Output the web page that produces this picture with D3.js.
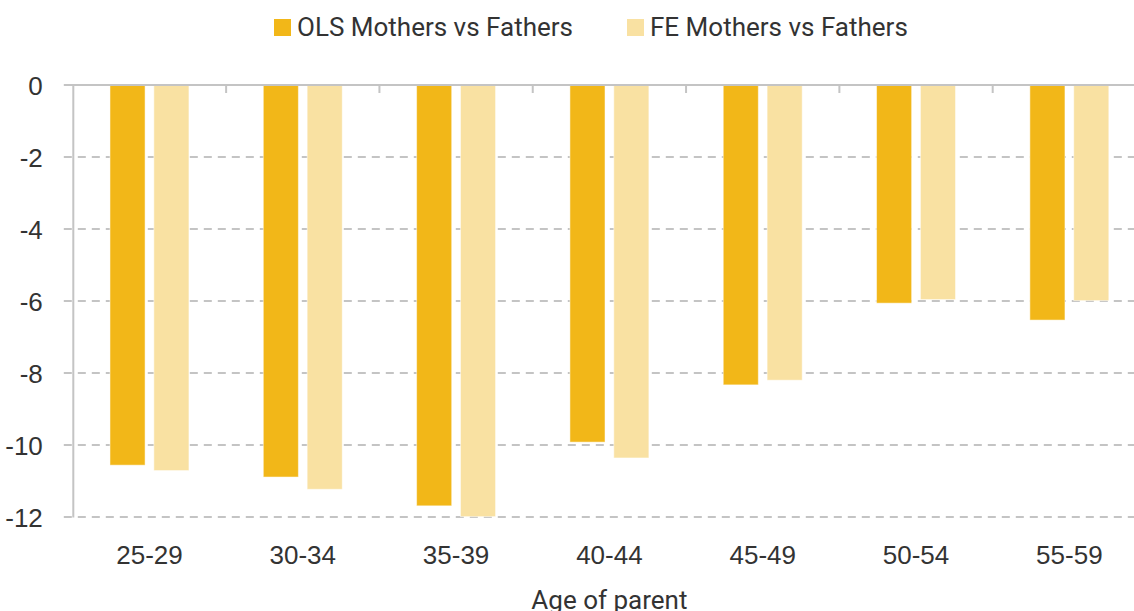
<!DOCTYPE html>
<meta charset="utf-8">
<style>
  body { margin: 0; background: #fff; font-family: Roboto, sans-serif; }
  .axis text { fill: #333; font-size: 26px; }
  .legend text { fill: #333; font-size: 26px; }
</style>
<body>
<div id="chart"></div>
<script src="https://d3js.org/d3.v7.min.js"></script>
<script>
  // data
  var ages = ["25-29", "30-34", "35-39", "40-44", "45-49", "50-54", "55-59"];
  var seriesNames = ["OLS Mothers vs Fathers", "FE Mothers vs Fathers"];
  var olsValues = [-10.56, -10.89, -11.69, -9.92, -8.33, -6.06, -6.53];
  var feValues = [-10.71, -11.23, -11.99, -10.36, -8.2, -5.96, -5.99];
  var yTicks = [0, -2, -4, -6, -8, -10, -12];
  var colors = ["#f2b718", "#f9e1a2"];

  var width = 1134, height = 611;
  var margin = { top: 85, left: 72.8 };
  var plotRight = 1146, plotBottom = 517;

  var svg = d3.select("#chart").append("svg")
    .attr("width", width)
    .attr("height", height);

  var x0 = d3.scaleBand()
    .domain(ages)
    .range([margin.left, plotRight])
    .paddingInner(0.485)
    .paddingOuter(0.2425);

  var x1 = d3.scaleBand()
    .domain([0, 1])
    .range([0, x0.bandwidth()])
    .paddingInner(0.2);

  var y = d3.scaleLinear()
    .domain([0, -12])
    .range([margin.top, plotBottom]);

  // gridlines
  svg.append("g")
    .selectAll("line")
    .data(yTicks.filter(function(d) { return d !== 0; }))
    .enter().append("line")
    .attr("x1", margin.left - 9)
    .attr("x2", width)
    .attr("y1", function(d) { return y(d); })
    .attr("y2", function(d) { return y(d); })
    .style("stroke", "#c4c4c4")
    .style("stroke-width", 2)
    .style("stroke-dasharray", "8,6");

  // y axis
  var yAxis = svg.append("g")
    .attr("class", "y axis")
    .attr("transform", "translate(" + margin.left + ",0)")
    .call(d3.axisLeft(y).tickValues(yTicks).tickSize(0).tickPadding(30).tickFormat(String));
  yAxis.select(".domain").style("stroke", "#c4c4c4").style("stroke-width", 2);
  yAxis.selectAll("text").attr("dy", "0.35em");

  // bars
  var groups = svg.append("g")
    .selectAll("g")
    .data(ages)
    .enter().append("g")
    .attr("transform", function(d) { return "translate(" + x0(d) + ",0)"; });

  groups.selectAll("rect")
    .data(function(d, i) { return [olsValues[i], feValues[i]]; })
    .enter().append("rect")
    .attr("x", function(d, j) { return x1(j); })
    .attr("width", x1.bandwidth())
    .attr("y", y(0))
    .attr("height", function(d) { return y(d) - y(0); })
    .style("fill", function(d, j) { return colors[j]; })
    .style("stroke", "#fff")
    .style("stroke-opacity", 0.5)
    .style("stroke-width", 1);

  // zero line with ticks at band edges
  var zero = svg.append("g");
  zero.append("line")
    .attr("x1", margin.left - 9)
    .attr("x2", width)
    .attr("y1", y(0))
    .attr("y2", y(0))
    .style("stroke", "#c4c4c4")
    .style("stroke-width", 2);
  zero.selectAll("line.tk")
    .data(ages.slice(1))
    .enter().append("line")
    .attr("class", "tk")
    .attr("x1", function(d) { return x0(d) - x0.step() * x0.paddingInner() / 2; })
    .attr("x2", function(d) { return x0(d) - x0.step() * x0.paddingInner() / 2; })
    .attr("y1", y(0))
    .attr("y2", y(0) + 8)
    .style("stroke", "#c4c4c4")
    .style("stroke-width", 2);

  // x labels
  var xAxis = svg.append("g")
    .attr("class", "x axis")
    .attr("transform", "translate(0," + plotBottom + ")")
    .call(d3.axisBottom(x0).tickSize(0).tickPadding(29));
  xAxis.select(".domain").remove();

  svg.append("text")
    .attr("x", (margin.left + plotRight) / 2)
    .attr("y", 609)
    .attr("text-anchor", "middle")
    .style("fill", "#333")
    .style("font-size", "26px")
    .text("Age of parent");

  // legend
  var legendX = [274, 627];
  var legend = svg.append("g").attr("class", "legend")
    .selectAll("g")
    .data(seriesNames)
    .enter().append("g")
    .attr("transform", function(d, i) { return "translate(" + legendX[i] + ",19)"; });
  legend.append("rect")
    .attr("width", 17)
    .attr("height", 17)
    .style("fill", function(d, i) { return colors[i]; });
  legend.append("text")
    .attr("x", 23)
    .attr("y", 16.5)
    .text(function(d) { return d; });
</script>
</body>
